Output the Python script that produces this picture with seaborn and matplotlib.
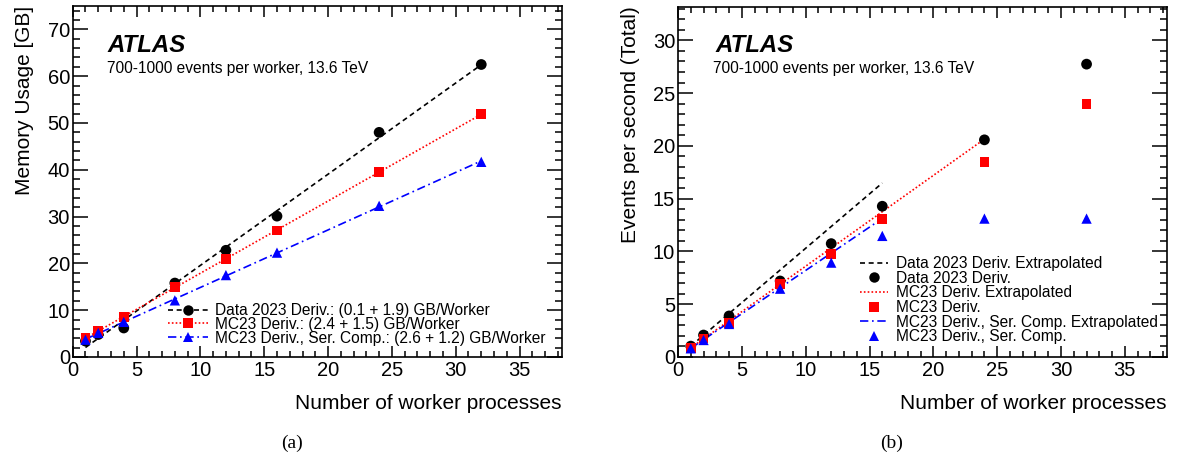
import numpy as np
import pandas as pd
import matplotlib
matplotlib.use("Agg")
import matplotlib.pyplot as plt
from matplotlib.lines import Line2D
from matplotlib.ticker import MultipleLocator
import seaborn as sns

# ---------------- data ----------------
workers = [1, 2, 4, 8, 12, 16, 24, 32]

# (a) memory usage [GB]
mem_data23 = [3.4, 4.8, 6.2, 15.8, 22.8, 30.1, 48.0, 62.5]
mem_mc23 = [4.1, 5.5, 8.6, 14.9, 21.0, 27.0, 39.5, 51.9]
mem_mc23_sc = [3.7, 5.15, 7.5, 12.1, 17.5, 22.3, 32.3, 41.7]

# (b) events per second (total)
eps_data23 = [1.03, 2.08, 3.89, 7.2, 10.74, 14.28, 20.57, 27.74]
eps_mc23 = [0.86, 1.77, 3.25, 6.89, 9.76, 13.08, 18.48, 23.98]
eps_mc23_sc = [0.82, 1.61, 3.13, 6.47, 8.94, 11.47, 13.11, 13.11]
extrap_max = [16, 24, 16]   # extrapolation range (workers) per series

labels_a = ["Data 2023 Deriv.: (0.1 + 1.9) GB/Worker",
            "MC23 Deriv.: (2.4 + 1.5) GB/Worker",
            "MC23 Deriv., Ser. Comp.: (2.6 + 1.2) GB/Worker"]
labels_b = ["Data 2023 Deriv. Extrapolated", "Data 2023 Deriv.",
            "MC23 Deriv. Extrapolated", "MC23 Deriv.",
            "MC23 Deriv., Ser. Comp. Extrapolated", "MC23 Deriv., Ser. Comp."]
atlas_label = "ATLAS"
sub_label = "700-1000 events per worker, 13.6 TeV"
xlabel = "Number of worker processes"
ylabel_a = "Memory Usage [GB]"
ylabel_b = "Events per second (Total)"

# ---------------- style ----------------
sns.set_style("ticks")
plt.rcParams["font.family"] = ["Liberation Sans", "DejaVu Sans"]
plt.rcParams["axes.linewidth"] = 1.2
plt.rcParams["text.color"] = "black"
plt.rcParams["axes.labelcolor"] = "black"

colors = ["black", "#ff0000", "#0000ff"]
markers = ["o", "s", "^"]
msize = [60, 48, 55]
lstyles = [(0, (3.0, 2.2)), (0, (1.0, 1.3)), (0, (5.0, 2.2, 1.0, 2.2))]

fig = plt.figure(figsize=(11.78, 4.57), dpi=100)
W, H = 1178, 457
axA = fig.add_axes([72.7 / W, 1 - 357 / H, 489 / W, 351 / H])
axB = fig.add_axes([678 / W, 1 - 357 / H, 489 / W, 350.5 / H])


def style_axes(ax, ymax, ymaj, ymin, atlas_x, sub_x):
    ax.set_xlim(0, 38.3)
    ax.set_ylim(0, ymax)
    ax.xaxis.set_major_locator(MultipleLocator(5))
    ax.xaxis.set_minor_locator(MultipleLocator(1))
    ax.yaxis.set_major_locator(MultipleLocator(ymaj))
    ax.yaxis.set_minor_locator(MultipleLocator(ymin))
    ax.tick_params(axis="both", which="both", direction="in",
                   top=True, right=True, labelsize=14.5, width=1.1,
                   colors="black")
    ax.tick_params(axis="x", which="major", length=8, pad=3)
    ax.tick_params(axis="x", which="minor", length=4)
    ax.tick_params(axis="y", which="major", length=10.5, pad=2)
    ax.tick_params(axis="y", which="minor", length=5.3)
    for s in ax.spines.values():
        s.set_visible(True)
        s.set_color("black")
    ax.set_xlabel(xlabel, fontsize=15, ha="right")
    ax.xaxis.set_label_coords(1.0, -0.106)
    ax.text(atlas_x, 0.869, atlas_label, transform=ax.transAxes,
            fontsize=17.3, fontweight="bold", fontstyle="italic")
    ax.text(sub_x, 0.81, sub_label, transform=ax.transAxes, fontsize=11.2)


# ---------------- (a) ----------------
x = np.array(workers, dtype=float)
series_a = [mem_data23, mem_mc23, mem_mc23_sc]
handles_a = []
for i, ys in enumerate(series_a):
    slope, icpt = np.polyfit(x, np.array(ys), 1)
    xf = np.array([x.min(), x.max()])
    sns.lineplot(x=xf, y=icpt + slope * xf, ax=axA, color=colors[i],
                 linestyle=lstyles[i], linewidth=1.2, zorder=2)
for i, ys in enumerate(series_a):
    sns.scatterplot(x=workers, y=ys, ax=axA, marker=markers[i], s=msize[i],
                    color=colors[i], edgecolor="none", zorder=3 + i)
    handles_a.append(Line2D([], [], color=colors[i], linestyle=lstyles[i],
                            linewidth=1.2, marker=markers[i],
                            markersize=7.5, markeredgewidth=0))
style_axes(axA, 75, 10, 2, 0.072, 0.070)
axA.set_ylabel(ylabel_a, fontsize=15, ha="right")
axA.yaxis.set_label_coords(-0.08, 1.0)
axA.legend(handles_a, labels_a, loc="upper left",
           bbox_to_anchor=(168 / W, 1 - 303 / H), bbox_transform=fig.transFigure,
           frameon=False, fontsize=11.2, handlelength=2.55, handletextpad=0.5,
           labelspacing=-0.07, borderpad=0, borderaxespad=0)

# ---------------- (b) ----------------
series_b = [eps_data23, eps_mc23, eps_mc23_sc]
handles_b = []
for i, ys in enumerate(series_b):
    xe = np.array([workers[0], extrap_max[i]], dtype=float)
    sns.lineplot(x=xe, y=ys[0] * xe / workers[0], ax=axB, color=colors[i],
                 linestyle=lstyles[i], linewidth=1.2, zorder=2)
for i, ys in enumerate(series_b):
    sns.scatterplot(x=workers, y=ys, ax=axB, marker=markers[i], s=msize[i],
                    color=colors[i], edgecolor="none", zorder=3 + i)
    handles_b.append(Line2D([], [], color=colors[i], linestyle=lstyles[i],
                            linewidth=1.2))
    handles_b.append(Line2D([], [], color=colors[i], linestyle="none",
                            marker=markers[i], markersize=7.5,
                            markeredgewidth=0))
style_axes(axB, 33.2, 5, 1, 0.0757, 0.0716)
axB.set_ylabel(ylabel_b, fontsize=15, ha="right")
axB.yaxis.set_label_coords(-0.078, 1.0)
axB.legend(handles_b, labels_b, loc="upper left",
           bbox_to_anchor=(860 / W, 1 - 256 / H), bbox_transform=fig.transFigure,
           frameon=False, fontsize=11.2, handlelength=1.8, handletextpad=0.5,
           labelspacing=-0.02, borderpad=0, borderaxespad=0)

# captions
fig.text(292 / W, 1 - 443 / H, "(a)", ha="center", va="center",
         fontsize=14, family=["Liberation Serif", "DejaVu Serif"])
fig.text(892 / W, 1 - 443 / H, "(b)", ha="center", va="center",
         fontsize=14, family=["Liberation Serif", "DejaVu Serif"])

fig.savefig("out.png", dpi=100)
